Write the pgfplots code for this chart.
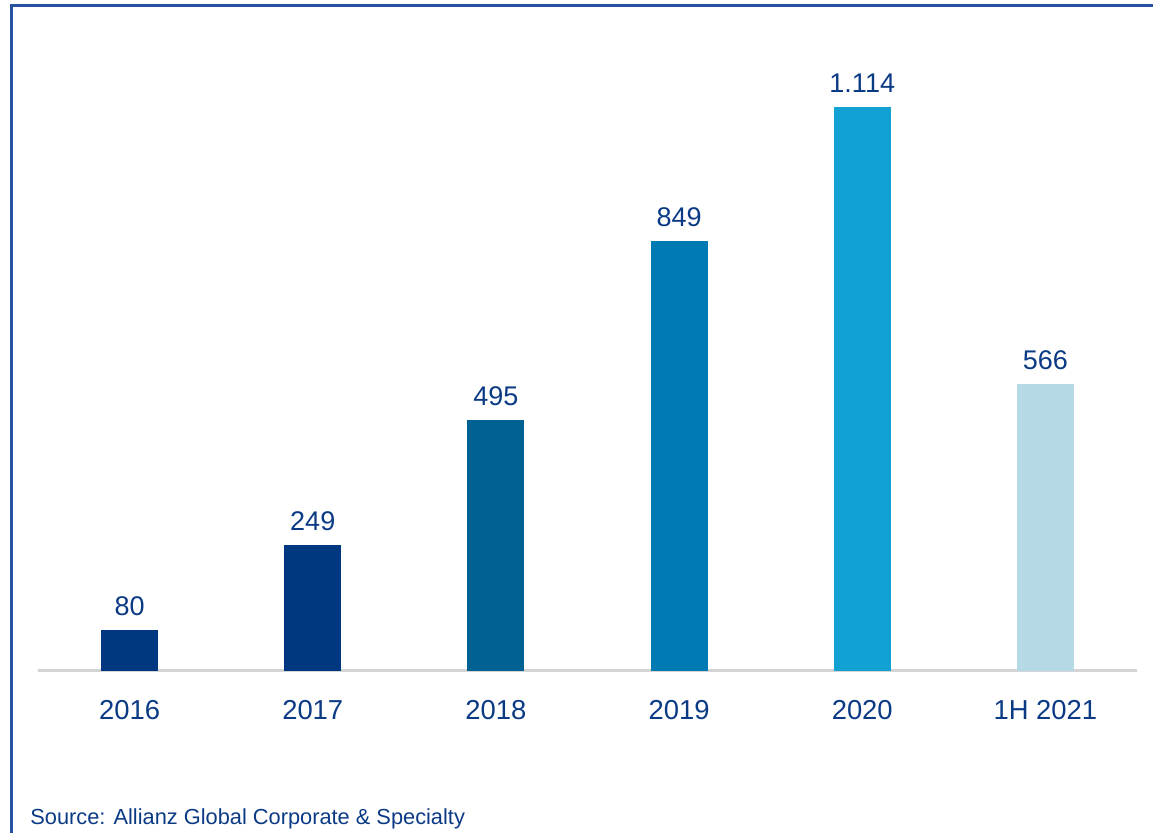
\documentclass[border=0pt]{standalone}
\usepackage{fontspec}
\setmainfont{Liberation Sans}
\usepackage{pgfplots}
\pgfplotsset{compat=1.18}

\definecolor{azdark}{HTML}{003781}
\definecolor{azmid}{HTML}{006192}
\definecolor{azblue}{HTML}{007AB3}
\definecolor{azsky}{HTML}{13A0D3}
\definecolor{azpale}{HTML}{B5DAE6}
\definecolor{labelblue}{HTML}{0B3A85}
\definecolor{framecol}{HTML}{2553A0}
\definecolor{baseline}{HTML}{D4D4D4}

\begin{document}
\begin{tikzpicture}
% picture is 1153 x 833 px, 1px = 0.5pt
\useasboundingbox (0,0) rectangle (576.5pt,416.5pt);
\draw[framecol, line width=1.5pt] (5.5pt,0) -- (5.5pt,413.5pt) -- (576.5pt,413.5pt);

\begin{axis}[
    at={(19pt,81pt)}, anchor=south west,
    scale only axis,
    width=549.5pt, height=305.5pt,
    xmin=-0.5, xmax=5.5,
    ymin=0, ymax=1206.8,
    ybar, bar width=28.5pt, bar shift=0pt,
    axis x line*=bottom,
    axis y line=none,
    x axis line style={-, draw=baseline, line width=1.5pt},
    xtick={0,1,2,3,4,5},
    xticklabels={2016,2017,2018,2019,2020,1H 2021},
    xtick style={draw=none},
    xticklabel style={font=\fontsize{13.7}{16}\selectfont, text=labelblue, inner sep=0pt, yshift=-10pt},
    nodes near coords,
    every node near coord/.append style={font=\fontsize{13.5}{16}\selectfont, text=labelblue, anchor=south, inner sep=0pt, yshift=7pt},
    /pgf/number format/assume math mode=true,
    /pgf/number format/1000 sep={.},
]
\addplot[fill=azdark, draw=none] coordinates {(0,80)};
\addplot[fill=azdark, draw=none] coordinates {(1,249)};
\addplot[fill=azmid, draw=none] coordinates {(2,495)};
\addplot[fill=azblue, draw=none] coordinates {(3,849)};
\addplot[fill=azsky, draw=none] coordinates {(4,1114)};
\addplot[fill=azpale, draw=none] coordinates {(5,566)};
\end{axis}

\node[anchor=base west, inner sep=0pt, text=labelblue, font=\fontsize{10.9}{13}\selectfont] at (15pt,4pt) {Source: Allianz Global Corporate \& Specialty};
\end{tikzpicture}
\end{document}
